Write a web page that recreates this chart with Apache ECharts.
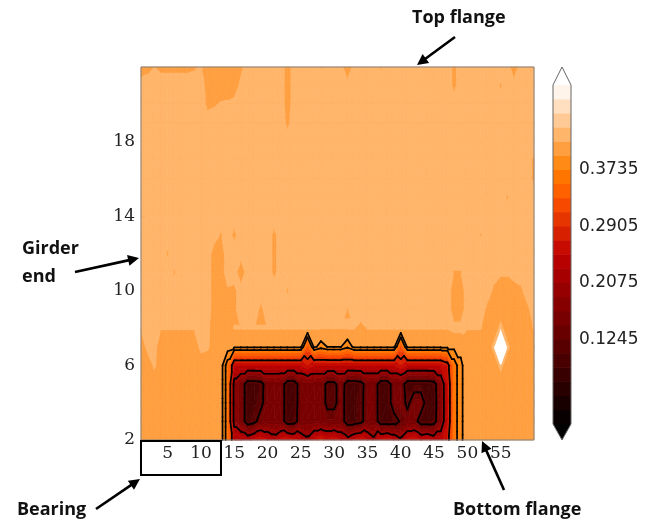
<!DOCTYPE html>
<html>
<head>
<meta charset="utf-8">
<script src="https://cdn.jsdelivr.net/npm/echarts@6/dist/echarts.min.js"></script>
<style>
html, body { margin: 0; padding: 0; background: #ffffff; }
#chart { width: 652px; height: 522px; }
</style>
</head>
<body>
<div id="chart"></div>
<script>
// Grid positions along the girder (x) and up the web (y, top row first)
const xPositions = [1,2,3,4,5,6,7,8,9,10,11,12,13,14,15,16,17,18,19,20,
  21,22,23,24,25,26,27,28,29,30,31,32,33,34,35,36,37,38,39,40,
  41,42,43,44,45,46,47,48,49,50,51,52,53,54,55,56,57,58,59,60];
const yPositions = [22,21,20,19,18,17,16,15,14,13,12,11,10,9,8,7,6,5,4,3,2];

// Measured web values, one row per y position (top row first), one column per x position
const webThickness = [
  // y = 22
  [.405,.41,.415,.41,.41,.41,.41,.41,.412,.418, .40,.40,.40,.40,.40,.41,.425,.425,.425,.425,
   .425,.425,.405,.425,.425,.425,.425,.414,.425,.425, .425,.395,.425,.425,.425,.425,.413,.425,.425,.425,
   .425,.425,.425,.414,.425,.425,.425,.41,.425,.425, .425,.425,.425,.425,.425,.425,.40,.425,.425,.425],
  // y = 21
  [.422,.422,.425,.425,.425,.425,.425,.425,.425,.425, .405,.405,.405,.405,.405,.42,.425,.425,.425,.425,
   .425,.425,.405,.425,.425,.425,.425,.425,.425,.425, .425,.425,.425,.425,.425,.425,.425,.425,.425,.425,
   .425,.425,.425,.425,.425,.425,.425,.41,.425,.425, .425,.425,.425,.425,.413,.425,.425,.425,.425,.425],
  // y = 20
  [.425,.425,.425,.425,.425,.425,.425,.425,.425,.425, .41,.413,.417,.418,.421,.425,.425,.425,.425,.425,
   .425,.425,.405,.425,.425,.425,.425,.425,.425,.425, .425,.425,.425,.425,.425,.425,.425,.425,.425,.425,
   .425,.425,.425,.425,.425,.425,.425,.425,.425,.425, .425,.425,.425,.425,.425,.425,.425,.425,.425,.425],
  // y = 19
  [.425,.425,.425,.425,.425,.425,.425,.425,.425,.425, .425,.425,.425,.425,.425,.425,.425,.425,.425,.425,
   .425,.425,.41,.425,.425,.425,.425,.425,.425,.425, .425,.425,.425,.425,.425,.425,.425,.425,.425,.425,
   .425,.425,.425,.425,.425,.425,.425,.425,.425,.425, .425,.425,.425,.425,.425,.425,.425,.425,.425,.425],
  // y = 18
  [.425,.425,.425,.425,.425,.425,.425,.425,.425,.425, .425,.425,.425,.425,.425,.425,.425,.425,.425,.425,
   .425,.425,.425,.425,.425,.425,.425,.425,.425,.425, .425,.425,.425,.425,.425,.425,.425,.425,.425,.425,
   .425,.425,.425,.425,.425,.425,.425,.425,.425,.425, .425,.425,.425,.425,.425,.425,.425,.425,.425,.425],
  // y = 17
  [.425,.425,.425,.425,.425,.425,.425,.425,.425,.425, .425,.425,.425,.425,.425,.425,.425,.425,.425,.425,
   .425,.425,.425,.425,.425,.425,.425,.425,.425,.425, .425,.425,.425,.425,.425,.425,.425,.425,.425,.425,
   .425,.425,.425,.425,.425,.425,.425,.425,.425,.425, .425,.425,.425,.425,.425,.425,.425,.425,.425,.41],
  // y = 16
  [.425,.425,.425,.425,.425,.425,.425,.425,.425,.425, .425,.425,.425,.425,.425,.425,.425,.425,.425,.425,
   .425,.425,.425,.425,.425,.425,.425,.425,.425,.425, .425,.425,.425,.425,.425,.425,.425,.425,.425,.425,
   .425,.425,.425,.425,.425,.425,.425,.425,.425,.425, .425,.425,.425,.425,.425,.425,.425,.425,.425,.41],
  // y = 15
  [.425,.425,.425,.425,.425,.425,.425,.425,.425,.425, .425,.425,.425,.425,.425,.425,.425,.425,.425,.425,
   .425,.425,.425,.425,.425,.425,.425,.425,.425,.425, .425,.425,.425,.425,.425,.425,.425,.425,.425,.425,
   .425,.425,.425,.425,.425,.425,.425,.425,.425,.425, .425,.425,.425,.425,.425,.413,.425,.425,.425,.425],
  // y = 14
  [.425,.425,.425,.425,.425,.425,.425,.425,.425,.425, .425,.425,.425,.425,.425,.425,.425,.425,.425,.425,
   .425,.425,.425,.425,.425,.425,.425,.425,.425,.425, .425,.425,.425,.425,.425,.425,.425,.425,.425,.425,
   .425,.425,.425,.425,.425,.425,.425,.425,.425,.425, .425,.425,.425,.425,.425,.425,.425,.425,.425,.425],
  // y = 13
  [.425,.425,.425,.425,.425,.425,.425,.425,.425,.425, .425,.425,.413,.425,.41,.425,.425,.425,.425,.425,
   .41,.425,.425,.425,.425,.425,.425,.425,.425,.425, .425,.425,.425,.425,.425,.425,.425,.425,.425,.425,
   .425,.425,.425,.425,.425,.425,.425,.425,.425,.425, .425,.414,.425,.425,.425,.425,.425,.425,.425,.425],
  // y = 12
  [.425,.425,.425,.425,.413,.425,.425,.425,.425,.425, .425,.405,.405,.425,.425,.425,.425,.425,.425,.425,
   .41,.425,.425,.425,.425,.425,.425,.425,.425,.425, .425,.425,.425,.425,.425,.425,.425,.425,.425,.425,
   .425,.425,.425,.425,.425,.425,.425,.425,.425,.425, .425,.425,.425,.425,.425,.425,.425,.425,.425,.425],
  // y = 11
  [.425,.425,.425,.425,.425,.413,.425,.425,.425,.425, .425,.405,.405,.425,.425,.40,.425,.425,.425,.425,
   .41,.425,.425,.425,.425,.425,.425,.425,.425,.425, .425,.425,.425,.425,.425,.425,.425,.425,.425,.425,
   .425,.425,.425,.425,.425,.425,.425,.414,.414,.425, .425,.425,.425,.425,.418,.418,.425,.425,.425,.425],
  // y = 10
  [.425,.425,.425,.425,.425,.425,.425,.425,.425,.425, .425,.405,.405,.412,.41,.425,.425,.425,.425,.425,
   .425,.425,.413,.425,.425,.425,.425,.425,.425,.425, .425,.425,.425,.425,.425,.425,.425,.425,.425,.425,
   .425,.425,.425,.425,.425,.425,.425,.405,.405,.425, .425,.425,.425,.41,.405,.405,.405,.41,.425,.425],
  // y = 9
  [.425,.425,.425,.425,.425,.425,.425,.425,.425,.425, .425,.405,.405,.412,.41,.425,.425,.425,.41,.425,
   .425,.425,.425,.425,.425,.425,.425,.425,.425,.425, .425,.414,.425,.425,.425,.425,.425,.425,.425,.425,
   .425,.425,.425,.425,.425,.425,.425,.405,.405,.425, .425,.425,.41,.405,.405,.405,.405,.405,.41,.425],
  // y = 8
  [.416,.425,.425,.416,.416,.416,.416,.416,.416,.425, .42,.405,.405,.41,.416,.416,.416,.416,.416,.416,
   .416,.416,.416,.416,.416,.416,.416,.416,.416,.416, .416,.416,.416,.41,.416,.416,.416,.416,.416,.416,
   .416,.416,.416,.416,.416,.416,.416,.42,.42,.416, .416,.416,.41,.405,.42,.405,.405,.405,.41,.416],
  // y = 7
  [.405,.42,.42,.405,.405,.405,.405,.405,.405,.42, .418,.405,.405,.405,.40,.40,.40,.40,.40,.40,
   .40,.40,.40,.40,.40,.33,.40,.385,.395,.395, .395,.38,.40,.40,.40,.40,.40,.40,.40,.33,
   .40,.40,.40,.40,.40,.40,.40,.40,.40,.405, .405,.405,.405,.42,1.6,.42,.405,.405,.405,.405],
  // y = 6
  [.405,.405,.418,.405,.405,.405,.405,.405,.405,.405, .405,.405,.405,.36,.25,.25,.25,.25,.25,.25,
   .25,.25,.25,.25,.25,.27,.25,.25,.25,.25, .25,.25,.25,.25,.25,.25,.25,.25,.25,.27,
   .25,.25,.25,.25,.25,.25,.27,.36,.39,.405, .405,.405,.405,.405,.42,.405,.405,.405,.405,.405],
  // y = 5
  [.405,.405,.405,.405,.405,.405,.405,.405,.405,.405, .405,.405,.405,.36,.19,.155,.10,.10,.105,.155,
   .155,.15,.10,.10,.15,.16,.155,.155,.11,.11, .155,.10,.10,.105,.15,.15,.10,.10,.15,.15,
   .10,.10,.10,.10,.105,.17,.25,.36,.39,.405, .405,.405,.405,.405,.405,.405,.405,.405,.405,.405],
  // y = 4
  [.405,.405,.405,.405,.405,.405,.405,.405,.405,.405, .405,.405,.405,.36,.19,.155,.10,.10,.11,.155,
   .155,.15,.10,.10,.15,.155,.155,.155,.11,.11, .15,.10,.10,.11,.15,.15,.10,.10,.15,.155,
   .11,.155,.155,.10,.10,.17,.25,.36,.39,.405, .405,.405,.405,.405,.405,.405,.405,.405,.405,.405],
  // y = 3
  [.405,.405,.405,.405,.405,.405,.405,.405,.405,.405, .405,.405,.405,.36,.19,.155,.10,.11,.15,.155,
   .155,.15,.10,.105,.15,.155,.155,.155,.15,.15, .15,.10,.10,.11,.15,.15,.10,.10,.105,.13,
   .15,.15,.10,.10,.105,.17,.25,.36,.39,.405, .405,.405,.405,.405,.405,.405,.405,.405,.405,.405],
  // y = 2
  [.405,.405,.405,.405,.405,.405,.405,.405,.405,.405, .405,.405,.405,.36,.25,.25,.24,.26,.27,.25,
   .23,.26,.27,.26,.24,.22,.26,.28,.26,.27, .25,.23,.26,.27,.25,.22,.26,.27,.25,.22,
   .26,.27,.25,.26,.24,.24,.27,.36,.39,.405, .405,.405,.405,.405,.405,.405,.405,.405,.405,.405]
];

// Filled contour levels and the levels traced with black lines
const contourLevels = [0, 0.02075, 0.0415, 0.06225, 0.083, 0.10375, 0.1245, 0.14525, 0.166, 0.18675,
  0.2075, 0.22825, 0.249, 0.26975, 0.2905, 0.31125, 0.332, 0.35275, 0.3735, 0.39425,
  0.415, 0.43575, 0.4565, 0.47725, 0.498];
const lineLevels = [0.1245, 0.2075, 0.2905, 0.3735, 0.39425];

// Axis and colour bar tick values
const xTickValues = [5, 10, 15, 20, 25, 30, 35, 40, 45, 50, 55];
const yTickValues = [2, 6, 10, 14, 18];
const colorbarTickValues = [0.1245, 0.2075, 0.2905, 0.3735];

// Callout texts
const calloutTopFlange = 'Top flange';
const calloutGirderEnd = ['Girder', 'end'];
const calloutBearing = 'Bearing';
const calloutBottomFlange = 'Bottom flange';

// ---- colour map (black -> red -> orange -> white) ----
function clamp01(v) { return Math.max(0, Math.min(1, v)); }
function heatColor(t) {
  const r = Math.round(255 * clamp01(1.5 * t));
  const g = Math.round(255 * clamp01(2 * t - 1));
  const b = Math.round(255 * clamp01(4 * t - 3));
  return 'rgb(' + r + ',' + g + ',' + b + ')';
}
const nLevels = contourLevels.length;
const vMin = contourLevels[0], vMax = contourLevels[nLevels - 1];
function bandColor(k) {
  if (k < 0) return heatColor(0);
  if (k >= nLevels - 1) return heatColor(1);
  const mid = (contourLevels[k] + contourLevels[k + 1]) / 2;
  return heatColor((mid - vMin) / (vMax - vMin));
}
function bandIndex(v) {
  if (v < contourLevels[0]) return -1;
  if (v >= contourLevels[nLevels - 1]) return nLevels - 1;
  for (let k = 0; k < nLevels - 1; k++) {
    if (v < contourLevels[k + 1]) return k;
  }
  return nLevels - 2;
}

// ---- isoband clipping on triangles ----
function clipPoly(pts, thr, keepAbove) {
  const out = [];
  for (let i = 0; i < pts.length; i++) {
    const a = pts[i], b = pts[(i + 1) % pts.length];
    const ina = keepAbove ? a[2] >= thr : a[2] <= thr;
    const inb = keepAbove ? b[2] >= thr : b[2] <= thr;
    if (ina) out.push(a);
    if (ina !== inb) {
      const t = (thr - a[2]) / (b[2] - a[2]);
      out.push([a[0] + t * (b[0] - a[0]), a[1] + t * (b[1] - a[1]), thr]);
    }
  }
  return out;
}

function cellTriangles(i, j) {
  const x0 = xPositions[i], x1 = xPositions[i + 1];
  const yT = yPositions[j], yB = yPositions[j + 1];
  const TL = [x0, yT, webThickness[j][i]];
  const TR = [x1, yT, webThickness[j][i + 1]];
  const BL = [x0, yB, webThickness[j + 1][i]];
  const BR = [x1, yB, webThickness[j + 1][i + 1]];
  if (Math.abs(BL[2] - TR[2]) <= Math.abs(BR[2] - TL[2])) {
    return [[BL, BR, TR], [BL, TR, TL]];
  }
  return [[BL, BR, TL], [BR, TR, TL]];
}

function renderFill(params, api) {
  const tris = cellTriangles(api.value(2), api.value(3));
  const children = [];
  tris.forEach(function (tri) {
    const vals = tri.map(function (p) { return p[2]; });
    const kLo = bandIndex(Math.min.apply(null, vals));
    const kHi = bandIndex(Math.max.apply(null, vals));
    for (let k = kLo; k <= kHi; k++) {
      let poly = tri;
      if (k >= 0) poly = clipPoly(poly, contourLevels[k], true);
      if (k < nLevels - 1 && poly.length) poly = clipPoly(poly, contourLevels[k + 1], false);
      if (poly.length < 3) continue;
      const c = bandColor(k);
      children.push({
        type: 'polygon',
        shape: { points: poly.map(function (p) { return api.coord([p[0], p[1]]); }) },
        style: { fill: c, stroke: c, lineWidth: 0.7 }
      });
    }
  });
  return { type: 'group', children: children };
}

function renderLines(params, api) {
  const tris = cellTriangles(api.value(2), api.value(3));
  const children = [];
  tris.forEach(function (tri) {
    lineLevels.forEach(function (lev) {
      const pts = [];
      for (let e = 0; e < 3; e++) {
        const a = tri[e], b = tri[(e + 1) % 3];
        if ((a[2] - lev) * (b[2] - lev) < 0) {
          const t = (lev - a[2]) / (b[2] - a[2]);
          pts.push([a[0] + t * (b[0] - a[0]), a[1] + t * (b[1] - a[1])]);
        }
      }
      if (pts.length === 2) {
        const p1 = api.coord(pts[0]), p2 = api.coord(pts[1]);
        children.push({
          type: 'line',
          shape: { x1: p1[0], y1: p1[1], x2: p2[0], y2: p2[1] },
          style: { stroke: '#000', lineWidth: 1.7, lineCap: 'round' }
        });
      }
    });
  });
  return { type: 'group', children: children };
}

const cellData = [];
for (let j = 0; j < yPositions.length - 1; j++) {
  for (let i = 0; i < xPositions.length - 1; i++) {
    cellData.push([xPositions[i], yPositions[j + 1], i, j]);
  }
}

// ---- colour bar ----
const barLow = -0.0235, barHigh = 0.5244;
const barData = [];
for (let k = -1; k < nLevels; k++) barData.push([0.5, 0.25, k]);
barData.push([0.5, 0.25, 99]);
function renderBar(params, api) {
  const k = api.value(2);
  const lo = contourLevels[0], hi = contourLevels[nLevels - 1];
  if (k === 99) {
    const pts = [[0, lo], [0, hi], [0.5, barHigh], [1, hi], [1, lo], [0.5, barLow]].map(function (p) { return api.coord(p); });
    return { type: 'polygon', shape: { points: pts }, style: { fill: null, stroke: '#666', lineWidth: 1 }, z2: 10 };
  }
  const c = bandColor(k);
  if (k < 0) {
    return { type: 'polygon', shape: { points: [api.coord([0, lo]), api.coord([1, lo]), api.coord([0.5, barLow])] }, style: { fill: c } };
  }
  if (k >= nLevels - 1) {
    return { type: 'polygon', shape: { points: [api.coord([0, hi]), api.coord([1, hi]), api.coord([0.5, barHigh])] }, style: { fill: c } };
  }
  const a = api.coord([0, contourLevels[k + 1]]), b = api.coord([1, contourLevels[k]]);
  return { type: 'rect', shape: { x: a[0], y: a[1] - 0.3, width: b[0] - a[0], height: b[1] - a[1] + 0.6 }, style: { fill: c } };
}

// ---- callouts ----
function arrow(x1, y1, x2, y2) {
  const dx = x2 - x1, dy = y2 - y1, len = Math.hypot(dx, dy);
  const ux = dx / len, uy = dy / len;
  const headLen = 11, headW = 5.5;
  const bx = x2 - ux * headLen, by = y2 - uy * headLen;
  return [
    { type: 'line', shape: { x1: x1, y1: y1, x2: bx + ux, y2: by + uy }, style: { stroke: '#000', lineWidth: 2.6 }, z: 100 },
    { type: 'polygon', shape: { points: [[x2, y2], [bx - uy * headW, by + ux * headW], [bx + uy * headW, by - ux * headW]] }, style: { fill: '#000' }, z: 100 }
  ];
}
const calloutFont = { fontFamily: '"Open Sans", sans-serif', fontWeight: 'bold', fontSize: 18, fill: '#111' };
function callText(txt, x, y) {
  return { type: 'text', x: x, y: y, z: 100, style: Object.assign({ text: txt, verticalAlign: 'middle', align: 'left' }, calloutFont) };
}

const chart = echarts.init(document.getElementById('chart'), null, { renderer: 'canvas' });
const serifLabel = { fontFamily: '"DejaVu Serif", serif', fontSize: 17, color: '#222' };

const option = {
  animation: false,
  backgroundColor: '#ffffff',
  grid: [
    { left: 141, top: 67, width: 393, height: 373, show: true, borderColor: '#808080', borderWidth: 1, backgroundColor: 'transparent', z: 5 },
    { left: 553, top: 67, width: 18, height: 373, show: false }
  ],
  xAxis: [
    {
      type: 'value', gridIndex: 0, min: 1, max: 60,
      axisLine: { show: false },
      axisTick: { show: true, inside: true, length: 4, lineStyle: { color: '#555' }, customValues: xTickValues },
      axisLabel: Object.assign({ margin: 5, customValues: xTickValues }, serifLabel),
      splitLine: { show: false }
    },
    { type: 'value', gridIndex: 1, min: 0, max: 1, show: false }
  ],
  yAxis: [
    {
      type: 'value', gridIndex: 0, min: 2, max: 22,
      axisLine: { show: false },
      axisTick: { show: true, inside: true, length: 4, lineStyle: { color: '#555' }, customValues: yTickValues },
      axisLabel: Object.assign({ margin: 6, customValues: yTickValues }, serifLabel),
      splitLine: { show: false }
    },
    {
      type: 'value', gridIndex: 1, position: 'right', min: barLow, max: barHigh,
      axisLine: { show: false },
      axisTick: { show: true, length: 4, lineStyle: { color: '#333' }, customValues: colorbarTickValues },
      axisLabel: {
        margin: 8, customValues: colorbarTickValues, fontFamily: '"DejaVu Sans", sans-serif', fontSize: 17, color: '#222',
        formatter: function (v) { return v.toFixed(4); }
      },
      splitLine: { show: false }
    }
  ],
  series: [
    {
      type: 'custom', name: 'fill', xAxisIndex: 0, yAxisIndex: 0, silent: true, z: 2,
      encode: { x: 0, y: 1 }, data: cellData, renderItem: renderFill
    },
    {
      type: 'custom', name: 'lines', xAxisIndex: 0, yAxisIndex: 0, silent: true, z: 3,
      encode: { x: 0, y: 1 }, data: cellData, renderItem: renderLines
    },
    {
      type: 'custom', name: 'colorbar', xAxisIndex: 1, yAxisIndex: 1, silent: true, z: 2,
      encode: { x: 0, y: 1 }, data: barData, renderItem: renderBar
    }
  ],
  graphic: [].concat(
    [callText(calloutTopFlange, 412, 18)],
    arrow(455, 37, 417, 65),
    [callText(calloutGirderEnd[0], 22, 249), callText(calloutGirderEnd[1], 22, 277)],
    arrow(75, 272, 139, 258),
    [{ type: 'rect', shape: { x: 141, y: 441, width: 80, height: 34 }, style: { fill: null, stroke: '#000', lineWidth: 2 }, z: 100 }],
    [callText(calloutBearing, 17, 510)],
    arrow(96, 509, 140, 479),
    [callText(calloutBottomFlange, 453, 510)],
    arrow(504, 490, 482, 441)
  )
};
chart.setOption(option);
</script>
</body>
</html>
